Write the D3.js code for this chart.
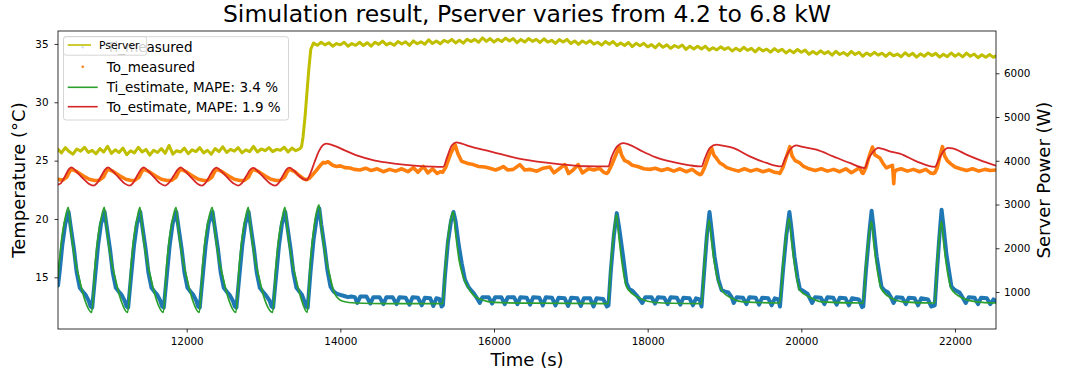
<!DOCTYPE html>
<html><head><meta charset="utf-8">
<script src="https://cdn.jsdelivr.net/npm/d3@7"></script>
<style>
body{margin:0;background:#fff;}
svg{display:block;font-family:"DejaVu Sans",sans-serif;}
</style></head><body>
<svg id="chart" width="1065" height="376"></svg>
<script>
const xTicks=[12000,14000,16000,18000,20000,22000];
const tempTicks=[15,20,25,30,35];
const powerTicks=[1000,2000,3000,4000,5000,6000];
const titleText="Simulation result, Pserver varies from 4.2 to 6.8 kW";
const legendLabels=["Ti_measured","To_measured","Ti_estimate, MAPE: 3.4 %","To_estimate, MAPE: 1.9 %"];

const tiMeasured=[[10325,14.3],[10345,15.4],[10380,17.7],[10420,19.6],
[10463,20.6],[10489,19.4],[10533,17.4],[10569,15.4],[10609,14.1],[10644,13.8],[10684,13.5],[10724,13.0],[10750,12.5],[10770,12.4],[10807,15.0],[10846,17.7],[10885,19.6],
[10932,20.6],[10958,19.4],[11002,17.4],[11038,15.4],[11078,14.1],[11113,13.8],[11153,13.5],[11192,13.0],[11218,12.5],[11238,12.4],[11275,15.0],[11314,17.7],[11353,19.6],
[11396,20.6],[11422,19.4],[11466,17.4],[11502,15.4],[11542,14.1],[11577,13.8],[11617,13.5],[11656,13.0],[11682,12.5],[11702,12.4],[11739,15.0],[11778,17.7],[11817,19.6],
[11865,20.6],[11891,19.4],[11935,17.4],[11971,15.4],[12011,14.1],[12046,13.8],[12086,13.5],[12124,13.0],[12150,12.5],[12170,12.4],[12207,15.0],[12246,17.7],[12285,19.6],
[12337,20.6],[12363,19.4],[12407,17.4],[12443,15.4],[12483,14.1],[12518,13.8],[12558,13.5],[12601,13.0],[12627,12.5],[12647,12.4],[12684,15.0],[12723,17.7],[12762,19.6],
[12806,20.6],[12832,19.4],[12876,17.4],[12912,15.4],[12952,14.1],[12987,13.8],[13027,13.5],[13079,13.0],[13105,12.5],[13125,12.4],[13162,15.0],[13201,17.7],[13240,19.6],
[13283,20.6],[13309,19.4],[13353,17.4],[13389,15.4],[13429,14.1],[13464,13.8],[13500,13.5],[13529,13.0],[13555,12.5],[13575,12.4],[13612,15.5],[13651,18.2],[13690,20.0],
[13726,20.9],[13752,19.5],[13796,17.5],[13832,15.6],[13872,14.2],[13910,13.8],[13950,13.6],[14000,13.5],[14050,13.4],
[14100,13.3],[14140,13.35],[14190,13.3],[14221,12.8],[14260,13.35],[14340,13.35],[14390,12.75],[14430,13.3],[14510,13.3],[14560,12.7],[14600,13.3],[14680,13.3],[14730,12.7],[14770,13.3],[14850,13.25],[14900,12.65],[14940,13.3],[15010,13.25],[15060,12.6],[15100,13.25],[15170,13.2],[15210,12.55],[15250,13.2],[15290,13.15],[15318,12.5],[15335,12.6],
[15360,15.0],[15400,18.0],[15440,19.8],[15472,20.6],[15500,19.8],[15540,17.8],[15580,16.2],[15622,14.8],[15665,14.2],[15700,13.9],[15740,13.6],[15780,13.2],[15815,12.8],[15850,13.3],[15930,13.3],[15975,12.75],[16015,13.3],[16095,13.3],[16140,12.7],[16180,13.3],[16260,13.3],[16305,12.7],[16345,13.3],[16425,13.25],[16470,12.65],[16510,13.3],[16590,13.25],[16635,12.6],[16675,13.3],[16755,13.25],[16800,12.6],[16840,13.25],[16920,13.2],[16965,12.55],[17005,13.25],[17085,13.2],[17130,12.55],[17170,13.2],[17250,13.2],[17295,12.5],[17335,13.2],[17420,13.15],[17470,12.5],[17490,12.6],
[17520,15.5],[17560,18.6],[17598,20.5],[17630,19.2],[17680,16.8],[17725,14.5],[17760,14.0],[17800,13.85],[17850,13.5],[17898,13.1],[17930,12.8],[17970,13.3],[18050,13.3],[18095,12.75],[18135,13.3],[18215,13.25],[18260,12.7],[18300,13.3],[18380,13.25],[18425,12.65],[18465,13.25],[18545,13.2],[18590,12.6],[18630,13.2],[18675,13.1],[18701,12.5],
[18735,15.5],[18770,18.5],[18805,20.6],[18830,19.2],[18870,16.8],[18920,14.8],[18963,13.9],[19000,13.8],[19050,13.7],[19093,13.3],[19120,12.8],[19160,13.3],[19240,13.25],[19285,12.7],[19325,13.3],[19405,13.25],[19450,12.65],[19490,13.25],[19570,13.2],[19615,12.6],[19655,13.2],[19700,13.1],[19722,12.5],
[19760,15.5],[19805,18.6],[19845,20.6],[19870,19.3],[19910,16.8],[19950,15.0],[19981,14.0],[20030,13.8],[20080,13.6],[20111,13.2],[20140,12.8],[20180,13.3],[20255,13.25],[20300,12.7],[20340,13.3],[20415,13.25],[20460,12.65],[20500,13.25],[20575,13.2],[20620,12.6],[20660,13.2],[20750,13.1],[20790,12.45],[20806,12.5],
[20840,15.5],[20880,18.5],[20915,20.7],[20940,19.3],[20980,16.8],[21043,14.2],[21080,13.9],[21130,13.7],[21173,13.2],[21200,12.8],[21240,13.3],[21315,13.25],[21360,12.7],[21400,13.25],[21475,13.2],[21520,12.6],[21560,13.2],[21650,13.1],[21690,12.5],[21737,12.6],
[21765,15.5],[21795,18.3],[21826,20.8],[21850,19.4],[21890,16.9],[21954,14.2],[22000,13.9],[22060,13.7],[22105,13.2],[22140,12.8],[22180,13.3],[22255,13.25],[22300,12.7],[22340,13.25],[22415,13.2],[22460,12.7],[22500,13.1],[22534,12.95]];

const toMeasured=[[10325,23.4],[10360,23.35],
[10391,23.35],[10441,23.6],[10471,24.0],[10493,24.25],[10521,24.2],[10571,24.05],[10651,23.7],[10731,23.4],[10801,23.3],[10856,23.3],
[10868,23.35],[10918,23.6],[10948,24.0],[10970,24.25],[10998,24.2],[11048,24.05],[11128,23.7],[11208,23.4],[11278,23.3],[11320,23.3],
[11331,23.35],[11381,23.6],[11411,24.0],[11433,24.25],[11461,24.2],[11511,24.05],[11591,23.7],[11671,23.4],[11741,23.3],[11800,23.3],
[11812,23.35],[11862,23.6],[11892,24.0],[11914,24.25],[11942,24.2],[11992,24.05],[12072,23.7],[12152,23.4],[12222,23.3],[12270,23.3],
[12280,23.35],[12330,23.6],[12360,24.0],[12382,24.25],[12410,24.2],[12460,24.05],[12540,23.7],[12620,23.4],[12690,23.3],[12745,23.3],
[12757,23.35],[12807,23.6],[12837,24.0],[12859,24.25],[12887,24.2],[12937,24.05],[13017,23.7],[13097,23.4],[13167,23.3],[13215,23.3],
[13226,23.35],[13276,23.6],[13306,24.0],[13328,24.25],[13356,24.2],[13406,24.05],[13470,23.7],[13520,23.45],[13562,23.37],
[13600,23.5],[13680,24.1],[13740,24.6],[13778,24.85],[13800,24.8],[13840,24.9],[13870,24.75],[13900,24.6],[13950,24.5],[14000,24.55],[14060,24.4],[14125,24.37],[14180,24.25],
[14255,24.2],[14330,24.35],[14400,24.15],[14480,24.3],[14560,24.05],[14640,24.25],[14720,24.1],[14800,24.3],[14880,24.05],[14950,24.4],[15010,24.0],[15080,24.5],[15140,23.95],[15200,24.3],[15260,23.9],[15300,24.05],[15331,24.0],
[15370,24.4],[15430,25.5],[15493,26.37],[15530,25.6],[15578,24.94],[15620,24.85],[15660,24.75],[15729,24.66],[15800,24.5],[15880,24.45],[15947,24.35],[16020,24.2],[16080,24.35],[16120,24.5],[16180,24.2],[16250,24.25],[16337,24.66],[16400,24.2],[16470,24.25],[16560,24.1],[16640,24.35],[16727,24.46],[16780,23.96],[16850,24.3],[16922,24.66],[16970,23.9],[17030,24.2],[17096,24.66],[17150,23.95],[17230,24.3],[17300,24.2],[17370,24.35],[17430,24.0],[17465,23.9],[17486,24.0],
[17530,24.6],[17580,25.4],[17630,26.2],[17660,25.5],[17700,25.0],[17740,24.9],[17800,24.6],[17870,24.5],[17950,24.3],[18030,24.25],[18100,24.35],[18180,24.15],[18260,24.3],[18340,24.1],[18420,24.3],[18500,24.05],[18580,24.25],[18640,23.95],[18680,23.8],[18701,23.85],
[18740,24.4],[18790,25.3],[18832,26.1],[18860,25.5],[18892,25.23],[18940,24.8],[18979,24.66],[19030,24.4],[19100,24.25],[19180,24.1],[19260,24.3],[19340,24.1],[19420,24.25],[19500,24.05],[19580,24.2],[19650,24.0],[19700,23.96],[19720,23.9],
[19760,24.4],[19810,25.4],[19851,26.2],[19880,25.4],[19920,25.0],[19981,24.8],[20030,24.5],[20100,24.3],[20180,24.15],[20260,24.3],[20340,24.1],[20420,24.25],[20500,24.05],[20580,24.3],[20652,23.96],[20710,24.2],[20760,24.4],[20790,23.95],[20804,23.9],
[20840,24.4],[20885,25.4],[20926,26.17],[20955,25.5],[21022,25.23],[21060,24.8],[21108,24.37],[21150,24.5],[21186,24.6],[21196,23.8],[21203,23.03],[21212,24.0],[21238,24.2],[21300,24.3],[21380,24.1],[21460,24.25],[21540,24.05],[21620,24.25],[21680,23.95],[21716,23.9],[21737,23.95],
[21770,24.4],[21805,25.4],[21837,26.2],[21865,25.4],[21900,25.0],[21950,24.7],[22000,24.45],[22070,24.3],[22150,24.15],[22230,24.3],[22310,24.1],[22390,24.25],[22460,24.15],[22534,24.2]];

const tiEstimate=[[10325,15.0],[10338,16.0],[10377,18.5],[10416,20.0],[10459,21.0],
[10490,19.1],[10533,17.0],[10598,15.0],[10663,13.3],[10764,12.0],[10807,16.0],[10846,18.5],[10885,20.0],[10928,21.0],
[10959,19.1],[11002,17.0],[11067,15.0],[11132,13.3],[11232,12.0],[11275,16.0],[11314,18.5],[11353,20.0],[11392,21.0],
[11423,19.1],[11466,17.0],[11531,15.0],[11596,13.3],[11696,12.0],[11739,16.0],[11778,18.5],[11817,20.0],[11861,21.0],
[11892,19.1],[11935,17.0],[12000,15.0],[12065,13.3],[12164,12.0],[12207,16.0],[12246,18.5],[12285,20.0],[12333,21.0],
[12364,19.1],[12407,17.0],[12472,15.0],[12537,13.3],[12641,12.0],[12684,16.0],[12723,18.5],[12762,20.0],[12802,21.0],
[12833,19.1],[12876,17.0],[12941,15.0],[13006,13.3],[13119,12.0],[13162,16.0],[13201,18.5],[13240,20.0],[13279,21.0],
[13310,19.1],[13353,17.0],[13418,15.0],[13483,13.3],[13569,12.0],[13612,16.5],[13651,19.0],[13690,20.6],[13722,21.2],
[13753,19.3],[13796,17.2],[13861,15.2],[13926,13.6],[14030,12.95],[14200,12.8],[14600,12.75],[15331,12.75],
[15370,16.2],[15410,18.9],[15445,20.2],[15469,20.6],[15500,18.8],[15545,16.5],[15600,15.0],[15665,14.1],[15730,13.5],[15850,13.05],[16000,12.85],[16500,12.78],[17486,12.75],
[17520,16.0],[17560,18.9],[17595,20.4],[17625,18.5],[17665,16.3],[17725,14.2],[17800,13.6],[17898,13.2],[18000,12.95],[18200,12.8],[18701,12.75],
[18735,16.0],[18770,18.6],[18800,19.9],[18830,18.2],[18870,16.2],[18963,13.9],[19093,13.2],[19244,12.9],[19720,12.8],
[19760,16.0],[19805,18.8],[19841,20.06],[19870,18.3],[19910,16.2],[19981,13.9],[20111,13.3],[20260,12.9],[20804,12.8],
[20840,16.0],[20880,18.6],[20913,19.8],[20940,18.1],[20980,16.0],[21043,14.0],[21173,13.2],[21320,12.9],[21737,12.8],
[21765,16.0],[21795,18.4],[21824,19.8],[21850,18.1],[21890,16.0],[21954,14.0],[22105,13.2],[22279,12.9],[22534,12.8]];

const toEstimate=[[10325,22.94],[10360,23.05],[10420,23.7],[10465,24.25],[10501,24.42],[10560,24.1],[10640,23.55],[10720,23.05],[10785,22.86],
[10830,23.05],[10890,23.7],[10940,24.25],[10978,24.42],[11037,24.1],[11115,23.55],[11190,23.05],[11253,22.86],
[11298,23.05],[11355,23.7],[11405,24.25],[11441,24.42],[11500,24.1],[11580,23.55],[11655,23.05],[11718,22.86],
[11763,23.05],[11830,23.7],[11885,24.25],[11922,24.42],[11981,24.1],[12060,23.55],[12135,23.05],[12195,22.86],
[12240,23.05],[12300,23.7],[12352,24.25],[12390,24.4],[12449,24.1],[12530,23.55],[12610,23.05],[12671,22.86],
[12716,23.05],[12778,23.7],[12830,24.25],[12867,24.38],[12926,24.1],[13005,23.55],[13085,23.05],[13149,22.86],
[13194,23.05],[13250,23.7],[13300,24.25],[13336,24.4],[13395,24.15],[13460,23.7],[13520,23.42],[13562,23.35],
[13610,23.9],[13660,24.8],[13720,25.8],[13770,26.3],[13817,26.46],[13870,26.4],[13950,26.2],[14050,25.9],[14233,25.4],[14450,25.0],[14700,24.75],[15000,24.55],[15200,24.48],[15339,24.46],
[15390,25.3],[15450,26.3],[15508,26.57],[15580,26.45],[15700,26.2],[15947,25.8],[16380,25.1],[16814,24.72],[17200,24.52],[17486,24.5],
[17530,25.3],[17600,26.2],[17682,26.5],[17750,26.4],[17900,25.9],[18100,25.3],[18350,24.85],[18550,24.6],[18701,24.5],
[18745,25.2],[18810,26.1],[18896,26.37],[18960,26.3],[19112,26.09],[19329,25.37],[19547,24.8],[19742,24.5],
[19790,25.2],[19860,26.0],[19937,26.3],[20000,26.2],[20198,25.94],[20414,25.37],[20631,24.8],[20826,24.37],
[20870,25.1],[20940,25.8],[20999,26.09],[21060,26.0],[21150,25.8],[21282,25.6],[21499,24.94],[21737,24.46],
[21790,25.1],[21850,25.8],[21910,26.1],[21970,26.05],[22150,25.52],[22366,24.94],[22534,24.57]];

const pserver=[[10325,4260],[10370,4180],[10420,4300],[10470,4210],[10520,4150],[10570,4270],[10620,4220],[10670,4310],[10720,4190],[10770,4240],[10820,4160],[10870,4280],[10920,4200],[10970,4330],[11020,4170],[11070,4250],[11120,4190],[11170,4290],[11220,4140],[11270,4230],[11320,4180],[11370,4310],[11420,4200],[11470,4260],[11520,4130],[11570,4240],[11620,4190],[11670,4280],[11720,4170],[11770,4350],[11820,4150],[11870,4230],[11920,4200],[11970,4290],[12020,4160],[12070,4250],[12120,4210],[12170,4300],[12220,4180],[12270,4240],[12320,4150],[12370,4280],[12420,4210],[12470,4320],[12520,4190],[12570,4260],[12620,4220],[12670,4300],[12720,4180],[12770,4250],[12820,4210],[12870,4330],[12920,4200],[12970,4270],[13020,4230],[13070,4300],[13120,4210],[13170,4260],[13220,4240],[13270,4310],[13320,4200],[13370,4290],[13420,4230],[13470,4270],
[13495,4320],[13515,4550],[13540,5000],[13565,5550],[13590,6100],[13615,6550],[13650,6690],
[13700,6640],[13750,6710],[13800,6650],[13850,6700],[13900,6620],[13950,6680],[14000,6650],[14050,6710],[14100,6620],[14150,6680],[14200,6640],[14250,6710],[14300,6635],[14350,6700],[14400,6620],[14450,6710],[14500,6660],[14550,6735],[14600,6650],[14650,6695],[14700,6640],[14750,6725],[14800,6670],[14850,6720],[14900,6640],[14950,6740],[15000,6675],[15050,6720],[15100,6665],[15150,6765],[15200,6680],[15250,6740],[15300,6675],[15350,6755],[15400,6710],[15450,6775],[15500,6695],[15550,6755],[15600,6690],[15650,6780],[15700,6725],[15750,6775],[15800,6710],[15850,6810],[15900,6730],[15950,6795],[16000,6715],[16050,6780],[16100,6725],[16150,6805],[16200,6740],[16250,6795],[16300,6700],[16350,6775],[16400,6715],[16450,6795],[16500,6730],[16550,6775],[16600,6705],[16650,6790],[16700,6715],[16750,6755],[16800,6685],[16850,6770],[16900,6715],[16950,6775],[17000,6680],[17050,6740],[17100,6660],[17150,6740],[17200,6685],[17250,6745],[17300,6665],[17350,6710],[17400,6645],[17450,6725],[17500,6665],[17550,6725],[17600,6635],[17650,6695],[17700,6635],[17750,6705],[17800,6610],[17850,6685],[17900,6630],[17950,6685],[18000,6605],[18050,6655],[18100,6585],[18150,6675],[18200,6595],[18250,6650],[18300,6570],[18350,6635],[18400,6590],[18450,6645],[18500,6545],[18550,6620],[18600,6555],[18650,6620],[18700,6555],[18750,6620],[18800,6530],[18850,6585],[18900,6535],[18950,6605],[19000,6545],[19050,6590],[19100,6510],[19150,6575],[19200,6515],[19250,6595],[19300,6525],[19350,6570],[19400,6490],[19450,6575],[19500,6510],[19550,6550],[19600,6485],[19650,6565],[19700,6500],[19750,6550],[19800,6465],[19850,6530],[19900,6470],[19950,6545],[20000,6480],[20050,6530],[20100,6435],[20150,6500],[20200,6440],[20250,6515],[20300,6450],[20350,6495],[20400,6415],[20450,6500],[20500,6430],[20550,6475],[20600,6410],[20650,6500],[20700,6430],[20750,6480],[20800,6390],[20850,6465],[20900,6410],[20950,6480],[21000,6415],[21050,6460],[21100,6385],[21150,6465],[21200,6400],[21250,6440],[21300,6380],[21350,6470],[21400,6400],[21450,6455],[21500,6370],[21550,6445],[21600,6390],[21650,6465],[21700,6405],[21750,6455],[21800,6370],[21850,6435],[21900,6380],[21950,6465],[22000,6390],[22050,6445],[22100,6375],[22150,6460],[22200,6390],[22250,6440],[22300,6355],[22350,6425],[22400,6365],[22450,6430],[22500,6365],[22534,6400]];

const C={blue:"#1f77b4",orange:"#ff7f0e",green:"#2ca02c",red:"#d62728",yellow:"#bfbf00"};
const L=58,R=996,T=31,B=329;
const svg=d3.select("#chart");
const x=d3.scaleLinear().domain([10325,22534]).range([L,R]);
const yT=d3.scaleLinear().domain([10.57,36.11]).range([B,T]);
const yP=d3.scaleLinear().domain([154,6967]).range([B,T]);

svg.append("defs").append("clipPath").attr("id","clip").append("rect")
  .attr("x",L).attr("y",T).attr("width",R-L).attr("height",B-T);
const plot=svg.append("g").attr("clip-path","url(#clip)");
function draw(data,ys,color,w,curve){
  plot.append("path").datum(data).attr("fill","none").attr("stroke",color)
    .attr("stroke-width",w).attr("stroke-linejoin","round").attr("stroke-linecap","round")
    .attr("d",d3.line().x(d=>x(d[0])).y(d=>ys(d[1])).curve(curve));
}
draw(tiMeasured,yT,C.blue,4,d3.curveLinear);
draw(toMeasured,yT,C.orange,3.6,d3.curveLinear);
draw(tiEstimate,yT,C.green,1.7,d3.curveMonotoneX);
draw(toEstimate,yT,C.red,1.8,d3.curveMonotoneX);
draw(pserver,yP,C.yellow,3,d3.curveLinear);

function styleAxis(g){
  g.select(".domain").remove();
  g.selectAll(".tick line").attr("stroke","#000").attr("stroke-width",0.8);
  g.selectAll(".tick text").attr("fill","#000").style("font-size","10.4px").style("font-family","DejaVu Sans");
}
svg.append("g").attr("transform",`translate(0,${B})`)
  .call(d3.axisBottom(x).tickValues(xTicks).tickSize(3.5).tickPadding(5.5).tickFormat(d3.format("d"))).call(styleAxis);
svg.append("g").attr("transform",`translate(${L},0)`)
  .call(d3.axisLeft(yT).tickValues(tempTicks).tickSize(3.5).tickPadding(6).tickFormat(d3.format("d"))).call(styleAxis);
svg.append("g").attr("transform",`translate(${R},0)`)
  .call(d3.axisRight(yP).tickValues(powerTicks).tickSize(3.5).tickPadding(4.5).tickFormat(d3.format("d"))).call(styleAxis);

svg.append("rect").attr("x",L).attr("y",T).attr("width",R-L).attr("height",B-T)
  .attr("fill","none").attr("stroke","#000").attr("stroke-width",0.8);

svg.append("text").attr("x",(L+R)/2).attr("y",22).attr("text-anchor","middle")
  .style("font-size","23.5px").attr("fill","#000").text(titleText);
svg.append("text").attr("x",(L+R)/2).attr("y",366).attr("text-anchor","middle")
  .style("font-size","18px").attr("fill","#000").text("Time (s)");
svg.append("text").attr("transform",`translate(25,${(T+B)/2}) rotate(-90)`).attr("text-anchor","middle")
  .style("font-size","18px").attr("fill","#000").text("Temperature (°C)");
svg.append("text").attr("transform",`translate(1050,${(T+B)/2}) rotate(-90)`).attr("text-anchor","middle")
  .style("font-size","18px").attr("fill","#000").text("Server Power (W)");

// main legend
const lg=svg.append("g");
lg.append("rect").attr("x",63.5).attr("y",36.7).attr("width",225).attr("height",83.3).attr("rx",2.5)
  .attr("fill","#fff").attr("fill-opacity",0.8).attr("stroke","#cccccc").attr("stroke-width",0.8);
const rowsY=[47.3,66.7,87.3,106.7];
const legendColors=[C.blue,C.orange,C.green,C.red];
legendLabels.forEach((lab,i)=>{
  const yy=rowsY[i];
  if(i<2){
    lg.append("circle").attr("cx",82.7).attr("cy",yy).attr("r",1.3).attr("fill",legendColors[i]);
  } else {
    lg.append("line").attr("x1",67.7).attr("x2",97.7).attr("y1",yy).attr("y2",yy)
      .attr("stroke",legendColors[i]).attr("stroke-width",1.6);
  }
  lg.append("text").attr("x",106.7).attr("y",yy+5).style("font-size","13.5px").attr("fill","#000").text(lab);
});
// secondary legend (drawn over the first, as in the original)
const lg2=svg.append("g");
lg2.append("rect").attr("x",63.5).attr("y",36.7).attr("width",83.2).attr("height",18.5).attr("rx",2.5)
  .attr("fill","#fff").attr("fill-opacity",0.8).attr("stroke","#cccccc").attr("stroke-width",0.8);
lg2.append("line").attr("x1",67.7).attr("x2",91).attr("y1",45).attr("y2",45).attr("stroke",C.yellow).attr("stroke-width",1.6);
lg2.append("text").attr("x",99).attr("y",49).style("font-size","10.8px").attr("fill","#000").text("Pserver");
</script>
</body></html>
